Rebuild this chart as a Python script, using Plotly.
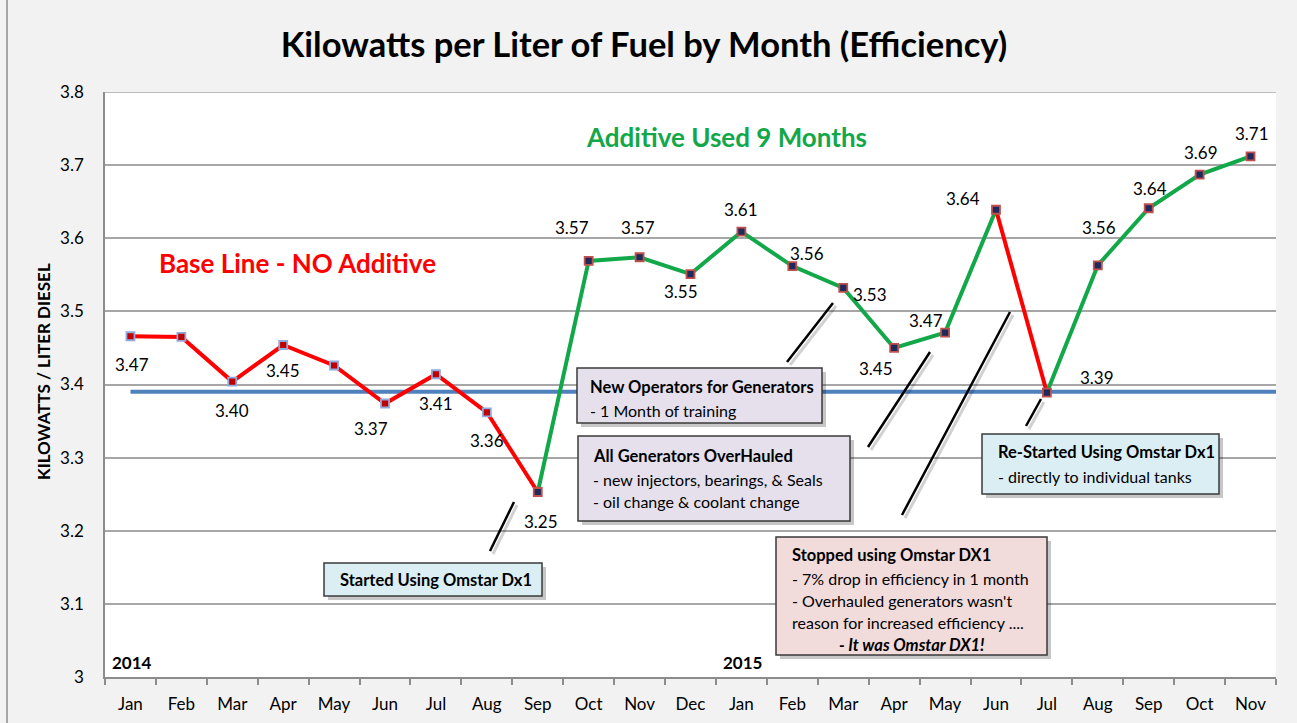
import plotly.graph_objects as go

# ---------------- data ----------------
MONTHS = ["Jan", "Feb", "Mar", "Apr", "May", "Jun", "Jul", "Aug", "Sep", "Oct", "Nov", "Dec",
          "Jan", "Feb", "Mar", "Apr", "May", "Jun", "Jul", "Aug", "Sep", "Oct", "Nov"]
KW_PER_LITER = [3.466, 3.465, 3.404, 3.454, 3.426, 3.374, 3.414, 3.362, 3.253, 3.569, 3.574, 3.551,
                3.609, 3.562, 3.532, 3.450, 3.471, 3.639, 3.389, 3.563, 3.641, 3.687, 3.712]
SHOW_LABEL = [True, False, True, True, False, True, True, True, True, True, True, True,
              True, True, True, True, True, True, True, True, True, True, True]
BASELINE = 3.39
YEARS = ["2014", "2015"]
YEAR_START_INDEX = [0, 12]

# ---------------- style / layout ----------------
W, H = 1297, 723
PL, PR, PT, PB = 105, 1276, 92, 677
FONT = "Lato"
RED = "#FF0000"
GREEN = "#12A84A"
BLUE = "#4F81BD"

# label offsets in pixels (dx right, dy down)
LABEL_OFFSETS = [(2, 28), None, (0, 29), (0, 25), None, (-14, 25), (0, 29), (0, 28), (3, 30),
                 (-17, -33), (-2, -30), (-10, 17), (0, -22), (15, -13), (27, 7), (-18, 21),
                 (-19, -12), (-33, -11), (50, -15), (1, -38), (1, -20), (1, -22), (1, -23)]
SEGMENTS = [(0, 8, RED), (8, 17, GREEN), (17, 18, RED), (18, 22, GREEN)]


def px(x):
    return (x - PL) / (PR - PL)


def py(y):
    return (PB - y) / (PB - PT)


x_idx = list(range(len(MONTHS)))

fig = go.Figure()

for s, e, c in SEGMENTS:
    fig.add_trace(go.Scatter(x=x_idx[s:e + 1], y=KW_PER_LITER[s:e + 1], mode="lines",
                             line=dict(color=c, width=4), hoverinfo="skip", showlegend=False))

mk_fill = ["#C00000" if i < 8 else "#1F2A5C" for i in x_idx]
mk_line = ["#8FAADC" if i < 8 else "#C0504D" for i in x_idx]
fig.add_trace(go.Scatter(x=x_idx, y=KW_PER_LITER, mode="markers",
                         marker=dict(symbol="square", size=8, color=mk_fill,
                                     line=dict(color=mk_line, width=1.8)),
                         showlegend=False))

annotations = []
for i, v in enumerate(KW_PER_LITER):
    if not SHOW_LABEL[i]:
        continue
    dx, dy = LABEL_OFFSETS[i]
    annotations.append(dict(x=i, y=v, xref="x", yref="y", text=f"{v:.2f}", showarrow=False,
                            xanchor="center", yanchor="middle",
                            xshift=dx, yshift=-dy, font=dict(family=FONT, size=17, color="#000")))

shapes = []
# baseline
shapes.append(dict(type="line", xref="x", yref="y", x0=0, x1=len(MONTHS) - 0.5,
                   y0=BASELINE, y1=BASELINE, line=dict(color=BLUE, width=4), layer="between"))

# pointer lines (pixel coords)
POINTERS = [((490, 551), (514, 502)), ((787, 362), (833, 303)), ((868, 447), (930, 352)),
            ((902, 515), (1010, 312)), ((1026, 426), (1041, 399))]
for (x0, y0), (x1, y1) in POINTERS:
    shapes.append(dict(type="line", xref="paper", yref="paper", x0=px(x0 + 3), y0=py(y0 + 3),
                       x1=px(x1 + 3), y1=py(y1 + 3), line=dict(color="rgba(0,0,0,0.18)", width=3),
                       layer="above"))
    shapes.append(dict(type="line", xref="paper", yref="paper", x0=px(x0), y0=py(y0),
                       x1=px(x1), y1=py(y1), line=dict(color="#000", width=2.5), layer="above"))

BOXES = [
    dict(rect=(324, 563, 542, 596), bg="#DBEEF4", tx=338,
         lines=[("<b>Started Using Omstar Dx1</b>", 580, None)]),
    dict(rect=(577, 368, 822, 423), bg="#E5E0EC", tx=588,
         lines=[("<b>New Operators for Generators</b>", 387, None), ("- 1 Month of training", 410, None)]),
    dict(rect=(578, 436, 850, 521), bg="#E5E0EC", tx=591,
         lines=[("<b>All Generators OverHauled</b>", 456, None),
                ("- new injectors, bearings, &amp; Seals", 479, None),
                ("- oil change &amp; coolant change", 501, None)]),
    dict(rect=(776, 537, 1047, 655), bg="#F2DCDB", tx=790,
         lines=[("<b>Stopped using Omstar DX1</b>", 555, None),
                ("- 7% drop in efficiency in 1 month", 578, None),
                ("- Overhauled generators wasn't", 600, None),
                ("reason for increased efficiency ....", 622, None),
                ("<b><i>- It was Omstar DX1!</i></b>", 645, 911)]),
    dict(rect=(982, 434, 1219, 494), bg="#DBEEF4", tx=996,
         lines=[("<b>Re-Started Using Omstar Dx1</b>", 452, None),
                ("- directly to individual tanks", 476, None)]),
]
for b in BOXES:
    x0, y0, x1, y1 = b["rect"]
    shapes.append(dict(type="rect", xref="paper", yref="paper", x0=px(x0 + 4), y0=py(y0 + 4),
                       x1=px(x1 + 4), y1=py(y1 + 4), line=dict(width=0),
                       fillcolor="rgba(0,0,0,0.22)", layer="above"))
    shapes.append(dict(type="rect", xref="paper", yref="paper", x0=px(x0), y0=py(y0),
                       x1=px(x1), y1=py(y1), line=dict(color="#3A3A3A", width=1.5),
                       fillcolor=b["bg"], layer="above"))
    for text, ty, cx in b["lines"]:
        size = 16.5 if text.startswith("<b>") else 16
        if cx is None:
            annotations.append(dict(x=px(b["tx"]), y=py(ty), xref="paper", yref="paper", text=text,
                                    showarrow=False, xanchor="left", yanchor="middle",
                                    font=dict(family=FONT, size=size, color="#000")))
        else:
            annotations.append(dict(x=px(cx), y=py(ty), xref="paper", yref="paper", text=text,
                                    showarrow=False, xanchor="center", yanchor="middle",
                                    font=dict(family=FONT, size=size, color="#000")))

# chart border (left)
shapes.append(dict(type="line", xref="paper", yref="paper", x0=px(7), x1=px(7), y0=py(0), y1=py(723),
                   line=dict(color="#8C8C8C", width=1.5), layer="above"))

# headline texts
annotations.append(dict(x=px(297), y=py(263), xref="paper", yref="paper",
                        xanchor="center", yanchor="middle",
                        text="<b>Base Line - NO Additive</b>", showarrow=False,
                        font=dict(family=FONT, size=26, color=RED)))
annotations.append(dict(x=px(726), y=py(137), xref="paper", yref="paper",
                        xanchor="center", yanchor="middle",
                        text="<b>Additive Used 9 Months</b>", showarrow=False,
                        font=dict(family=FONT, size=26, color=GREEN)))
# year labels
for yr, idx in zip(YEARS, YEAR_START_INDEX):
    annotations.append(dict(x=idx - 0.5, y=3.0, xref="x", yref="y", text=f"<b>{yr}</b>",
                            showarrow=False, xanchor="left", yanchor="bottom", xshift=5, yshift=2,
                            font=dict(family=FONT, size=17, color="#000")))
# y axis title
annotations.append(dict(x=px(43), y=py(372), xref="paper", yref="paper",
                        xanchor="center", yanchor="middle",
                        text="<b>KILOWATTS / LITER DIESEL</b>", textangle=-90, showarrow=False,
                        font=dict(family=FONT, size=17, color="#000")))

fig.update_layout(
    width=W, height=H,
    margin=dict(l=PL, r=W - PR, t=PT, b=H - PB, autoexpand=False),
    paper_bgcolor="#F2F2F2", plot_bgcolor="#FFFFFF",
    title=dict(text="<b>Kilowatts per Liter of Fuel by Month (Efficiency)</b>",
               x=644 / W, y=1 - 45 / H, xanchor="center", yanchor="middle",
               font=dict(family=FONT, size=34.5, color="#000")),
    xaxis=dict(range=[-0.5, len(MONTHS) - 0.5], tickmode="array", tickvals=x_idx, ticktext=MONTHS,
               ticks="", showgrid=False, zeroline=False, showline=True, linecolor="#8C8C8C",
               linewidth=1.5, ticklabelstandoff=11,
               tickfont=dict(family=FONT, size=17, color="#000"),
               minor=dict(tickmode="array", tickvals=[i - 0.5 for i in range(len(MONTHS) + 1)],
                          ticks="outside", ticklen=6, tickcolor="#8C8C8C", tickwidth=1.5,
                          showgrid=False)),
    yaxis=dict(range=[3.0, 3.8], dtick=0.1, tick0=3.0, showgrid=True, gridcolor="#A6A6A6",
               gridwidth=1.5, zeroline=False, showline=True, linecolor="#8C8C8C", linewidth=1.5,
               ticks="", ticklabelstandoff=16,
               tickfont=dict(family=FONT, size=17, color="#000")),
    shapes=shapes,
    annotations=annotations,
)
# top gridline at 3.8
fig.add_shape(type="line", xref="paper", yref="y", x0=0, x1=1, y0=3.8, y1=3.8,
              line=dict(color="#A6A6A6", width=1.5), layer="between")

fig.write_html("out.html", config={"displayModeBar": False},
               post_script="document.body.style.margin='0';")
